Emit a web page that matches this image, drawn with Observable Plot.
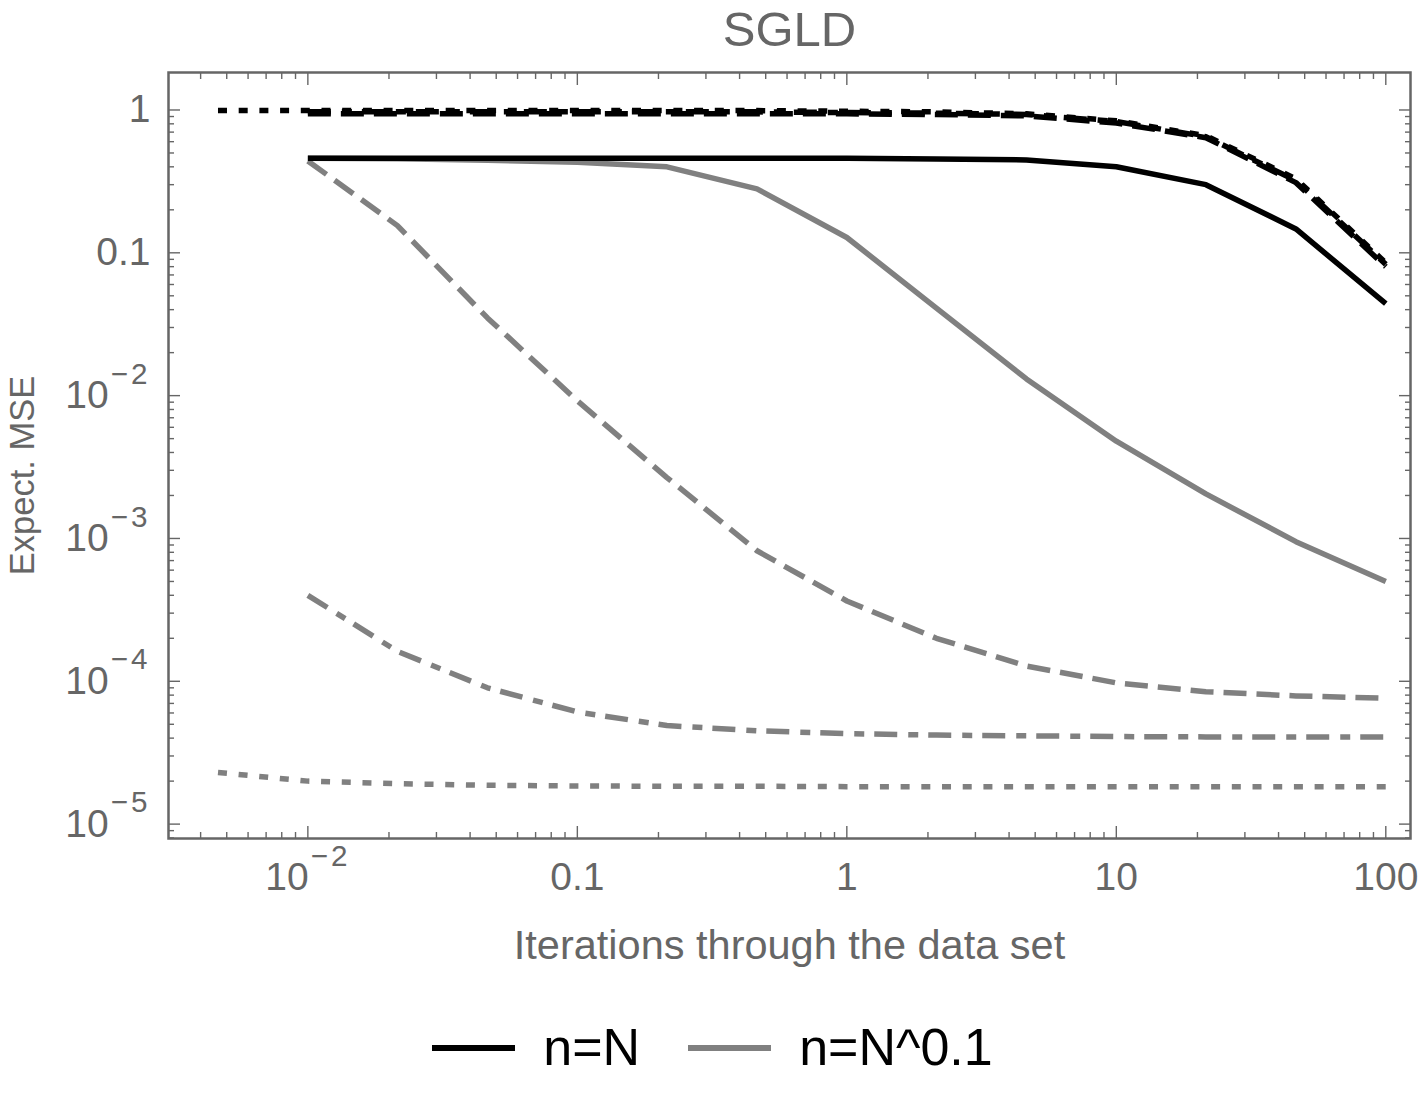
<!DOCTYPE html>
<html>
<head>
<meta charset="utf-8">
<script src="https://cdn.jsdelivr.net/npm/d3@7"></script>
<script src="https://cdn.jsdelivr.net/npm/@observablehq/plot@0.6"></script>
<style>
  body { margin: 0; background: #fff; font-family: "Liberation Sans", Arial, sans-serif; }
  #wrap { position: relative; width: 1425px; height: 1100px; }
  #legend { position: absolute; left: 0; top: 1000px; width: 1425px; height: 96px;
            display: flex; justify-content: center; align-items: center; }
  .sw { display: inline-block; height: 6px; }
  .lab { font-size: 52px; color: #000; line-height: 1.15; }
</style>
</head>
<body>
<div id="wrap">
  <div id="chart"></div>
  <div id="legend"></div>
</div>
<script>
// ---- data ----
const iterations = [0.00464, 0.01, 0.0215, 0.0464, 0.1, 0.215, 0.464, 1, 2.15, 4.64, 10, 21.5, 46.4, 100];

// n = N (black)
const bigSolid   = [null, 0.46, 0.46, 0.46, 0.46, 0.46, 0.46, 0.46, 0.454, 0.447, 0.40, 0.30, 0.147, 0.044];
const bigDashed  = [null, 0.94, 0.94, 0.94, 0.94, 0.94, 0.94, 0.94, 0.93, 0.91, 0.81, 0.64, 0.31, 0.080];
const bigDotDash = [null, 0.97, 0.97, 0.97, 0.97, 0.97, 0.97, 0.96, 0.95, 0.93, 0.83, 0.65, 0.32, 0.083];
const bigDotted  = [0.99, 0.99, 0.99, 0.99, 0.99, 0.99, 0.99, 0.98, 0.97, 0.94, 0.84, 0.66, 0.33, 0.085];

// n = N^0.1 (gray)
const smallSolid   = [null, 0.46, 0.455, 0.445, 0.43, 0.40, 0.28, 0.128, 0.041, 0.0131, 0.0048, 0.00205, 0.00095, 0.0005];
const smallDashed  = [null, 0.44, 0.155, 0.035, 0.0092, 0.00267, 0.00082, 0.000365, 0.0002, 0.000128, 0.0000975, 0.0000845, 0.000079, 0.000076];
const smallDotDash = [null, 4.0e-4, 1.62e-4, 9.0e-5, 6.1e-5, 4.9e-5, 4.5e-5, 4.3e-5, 4.2e-5, 4.15e-5, 4.1e-5, 4.08e-5, 4.07e-5, 4.07e-5];
const smallDotted  = [2.3e-5, 2.0e-5, 1.92e-5, 1.87e-5, 1.85e-5, 1.84e-5, 1.84e-5, 1.83e-5, 1.83e-5, 1.83e-5, 1.83e-5, 1.83e-5, 1.83e-5, 1.83e-5];

const xTickValues = [0.01, 0.1, 1, 10, 100];
const xTickLabels = ["10^\u22122", "0.1", "1", "10", "100"];
const yTickValues = [1, 0.1, 0.01, 0.001, 0.0001, 0.00001];
const yTickLabels = ["1", "0.1", "10^\u22122", "10^\u22123", "10^\u22124", "10^\u22125"];

const legendNames = ["n=N", "n=N^0.1"];
const legendColors = ["#000000", "#808080"];

// ---- styles ----
const DASHED = "23,10";
const DOTDASH = "23,11,10,10";
const DOTTED = "9,11.7";
const GRAY = "#808080", BLACK = "#000000", AX = "#666666";

const seriesDefs = [
  {vals: smallDotted, stroke: GRAY, dash: DOTTED},
  {vals: smallDotDash, stroke: GRAY, dash: DOTDASH},
  {vals: smallDashed, stroke: GRAY, dash: DASHED},
  {vals: smallSolid, stroke: GRAY, dash: null},
  {vals: bigDotted, stroke: BLACK, dash: DOTTED},
  {vals: bigDashed, stroke: BLACK, dash: DASHED},
  {vals: bigDotDash, stroke: BLACK, dash: DOTDASH},
  {vals: bigSolid, stroke: BLACK, dash: null}
];

function rows(vals) {
  return iterations.map((x, i) => ({x, y: vals[i]})).filter(d => d.y != null);
}

// minor ticks (axis structure)
function minors(lo, hi) {
  const out = [];
  for (let e = lo; e <= hi; e++) for (let m = 2; m <= 9; m++) out.push(m * Math.pow(10, e));
  return out;
}
const xMinor = minors(-3, 2).filter(v => v > 0.00304 && v < 123.5);
const yMinor = minors(-6, 0).filter(v => v > 7.93e-6 && v < 1.83);

const fmtX = v => xTickLabels[xTickValues.findIndex(t => Math.abs(t - v) / t < 1e-9)];
const fmtY = v => yTickLabels[yTickValues.findIndex(t => Math.abs(t - v) / t < 1e-9)];

const lineMarks = seriesDefs.map(s => Plot.line(rows(s.vals), {
  x: "x", y: "y", stroke: s.stroke, strokeWidth: 5.5,
  strokeDasharray: s.dash, strokeLinecap: "butt", strokeLinejoin: "round"
}));

const tickStyle = {stroke: AX, strokeWidth: 1.4, tickFormat: () => "", label: null};

const chart = Plot.plot({
  width: 1425,
  height: 1000,
  marginTop: 72,
  marginBottom: 162,
  marginLeft: 168,
  marginRight: 15,
  style: {fontFamily: "'Liberation Sans', Arial, sans-serif", background: "#fff", overflow: "visible"},
  x: {type: "log", domain: [0.00304, 123.5]},
  y: {type: "log", domain: [7.93e-6, 1.83]},
  marks: [
    ...lineMarks,
    // inward ticks on all four sides
    Plot.axisX(xTickValues, {anchor: "bottom", tickSize: -12, ...tickStyle}),
    Plot.axisX(xMinor, {anchor: "bottom", tickSize: -6, ...tickStyle}),
    Plot.axisX(xTickValues, {anchor: "top", tickSize: -12, ...tickStyle}),
    Plot.axisX(xMinor, {anchor: "top", tickSize: -6, ...tickStyle}),
    Plot.axisY(yTickValues, {anchor: "left", tickSize: -12, ...tickStyle}),
    Plot.axisY(yMinor, {anchor: "left", tickSize: -6, ...tickStyle}),
    Plot.axisY(yTickValues, {anchor: "right", tickSize: -12, ...tickStyle}),
    Plot.axisY(yMinor, {anchor: "right", tickSize: -6, ...tickStyle}),
    // tick labels
    Plot.axisX(xTickValues, {anchor: "bottom", tickSize: 0, tickPadding: 24, tickFormat: fmtX,
      fontSize: 39, fill: AX, label: null}),
    Plot.axisY(yTickValues, {anchor: "left", tickSize: 0, tickPadding: 18, tickFormat: fmtY,
      fontSize: 39, fill: AX, label: null}),
    Plot.frame({stroke: AX, strokeWidth: 2.5}),
    // titles
    Plot.text(["SGLD"], {text: d => d, frameAnchor: "top", dy: -42, lineAnchor: "middle",
      fontSize: 49, fill: AX}),
    Plot.text(["Iterations through the data set"], {text: d => d, frameAnchor: "bottom", dy: 107,
      lineAnchor: "middle", fontSize: 41.5, fill: AX}),
    Plot.text(["Expect. MSE"], {text: d => d, frameAnchor: "left", dx: -146, dy: 20, rotate: -90,
      lineAnchor: "middle", textAnchor: "middle", fontSize: 34.5, fill: AX})
  ]
});

// superscript exponents in tick labels
chart.querySelectorAll("text").forEach(t => {
  const s = t.textContent;
  if (s.includes("^") && t.children.length === 0) {
    const [base, exp] = s.split("^");
    t.textContent = base;
    const ts = document.createElementNS("http://www.w3.org/2000/svg", "tspan");
    ts.setAttribute("font-size", "0.76em");
    ts.setAttribute("dy", "-0.82em");
    ts.setAttribute("dx", "2");
    ts.setAttribute("letter-spacing", "3");
    ts.textContent = exp;
    t.appendChild(ts);
  }
});

document.getElementById("chart").appendChild(chart);

// legend
const leg = document.getElementById("legend");
legendNames.forEach((name, i) => {
  const sw = document.createElement("span");
  sw.className = "sw";
  sw.style.width = "83px";
  sw.style.background = legendColors[i];
  sw.style.marginRight = "28px";
  sw.style.marginLeft = i === 0 ? "0" : "48px";
  const lb = document.createElement("span");
  lb.className = "lab";
  lb.textContent = name;
  leg.appendChild(sw);
  leg.appendChild(lb);
});
</script>
</body>
</html>
